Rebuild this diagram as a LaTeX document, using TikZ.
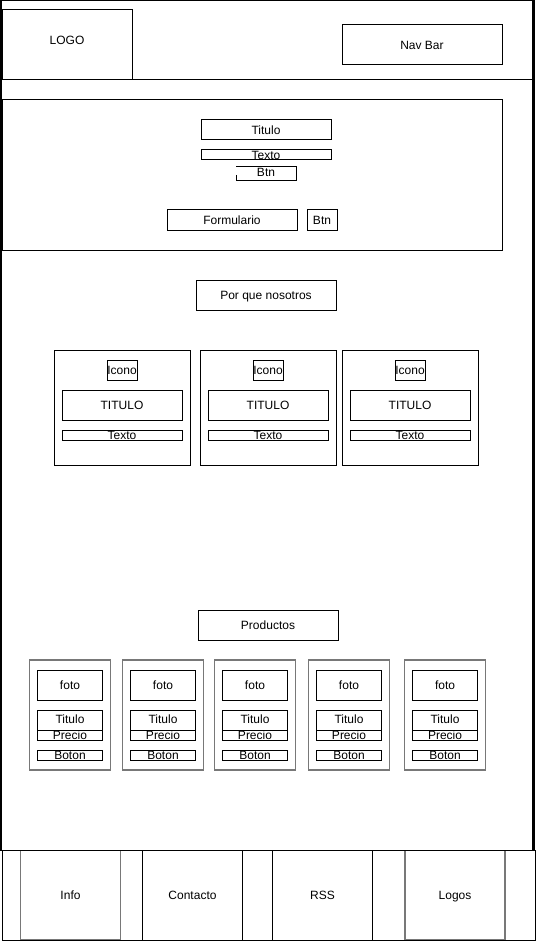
\documentclass[tikz,border=0pt]{standalone}
\usepackage{fontspec}
\setmainfont{Liberation Sans}
\definecolor{wfgray}{RGB}{120,120,120}
\tikzset{
  wf/.style={draw=black, line width=1pt, inner sep=0pt, outer sep=0pt, fill=none},
  wfg/.style={draw=wfgray, line width=1.6pt, inner sep=0pt, outer sep=0pt},
  lbl/.style={inner sep=0pt, outer sep=0pt, text height=8.6pt, text depth=2.5pt,
    yshift=-1.6pt, font=\fontsize{12}{14}\selectfont, text=black}
}
% box from (x1,y1) to (x2,y2) with a name
\newcommand\wbox[6][wf]{\node[#1, minimum width={(#5)-(#3)}, minimum height={(#6)-(#4)}] (#2) at ({((#3)+(#5))/2},{((#4)+(#6))/2}) {};}
\begin{document}
\begin{tikzpicture}[x=1pt,y=-1pt]
\useasboundingbox (0,0) rectangle (535,941);
\fill[white] (0,0) rectangle (535,941);

% page frame
\draw[line width=1pt] (0,0.5) -- (535,0.5);
\draw[line width=1.2pt] (1,0) -- (1,851);
\fill[black] (532,0) rectangle (535,851);
\draw[line width=1pt] (0,80) -- (533,80);

% header
\wbox{logo}{2.5}{10}{132}{80}
\node[lbl] (logot) at (67,40) {LOGO};
\wbox{nav}{342}{25}{502}{65}
\node[lbl] (navt) at (nav) {Nav Bar};

% hero
\wbox{hero}{2.5}{100}{502}{250}
\wbox{titulo}{201}{120}{331}{140}
\node[lbl] (titulot) at (titulo) {Titulo};
\node[lbl] (textot) at (266,154.6) {Texto};
\wbox{texto}{201}{150}{331}{160}
\node[lbl] (btnt) at (266,172) {Btn};
\coordinate (btnA) at (236,175);
\draw[line width=1pt] (btnA) -- (236,180.5) -- (296.5,180.5) -- (296.5,167) -- (236,167);
\wbox{form}{167}{210}{297}{230}
\node[lbl] (formt) at (form) {Formulario};
\wbox{btn2}{307}{210}{337}{230}
\node[lbl] (btn2t) at (btn2) {Btn};

% section: why us
\wbox{porque}{196}{280}{336}{310}
\node[lbl] (porquet) at (porque) {Por que nosotros};

\foreach \cx [count=\i] in {54,200,342}{
  \wbox{card\i}{\cx}{350}{\cx+136}{465}
  \node[lbl] (iconot\i) at (\cx+68,370) {Icono};
  \wbox{icono\i}{\cx+53}{360}{\cx+83}{380}
  \wbox{tit\i}{\cx+8}{390}{\cx+128}{420}
  \node[lbl] (titt\i) at (tit\i) {TITULO};
  \node[lbl] (txtt\i) at (\cx+68,434.6) {Texto};
  \wbox{txt\i}{\cx+8}{430}{\cx+128}{440}
}

% section: products
\wbox{prod}{198}{610}{338}{640}
\node[lbl] (prodt) at (prod) {Productos};

\foreach \px [count=\i] in {29.5,122.5,214.5,308.5,404.5}{
  \wbox[wfg]{pcard\i}{\px}{660}{\px+81}{770}
  \wbox{foto\i}{\px+8}{670}{\px+73}{700}
  \node[lbl] (fotot\i) at (foto\i) {foto};
  \wbox{ptit\i}{\px+8}{710}{\px+73}{730}
  \node[lbl] (ptitt\i) at (\px+40.5,719) {Titulo};
  \node[lbl] (preciot\i) at (\px+40.5,734.6) {Precio};
  \wbox{precio\i}{\px+8}{730}{\px+73}{740}
  \node[lbl] (botont\i) at (\px+40.5,754.6) {Boton};
  \wbox{boton\i}{\px+8}{750}{\px+73}{760.5}
}

% footer
\wbox{footer}{2.5}{850.5}{535}{940}
\wbox[wfg]{finfo}{20.5}{850.5}{120.5}{940}
\node[lbl] (finfot) at (finfo) {Info};
\wbox{fcont}{142.5}{850.5}{242.5}{940}
\node[lbl] (fcontt) at (fcont) {Contacto};
\wbox{frss}{272.5}{850.5}{372.5}{940}
\node[lbl] (frsst) at (frss) {RSS};
\wbox[wfg]{flogos}{405}{850.5}{505}{940}
\node[lbl] (flogost) at (flogos) {Logos};
\draw[line width=1pt] (footer.north west) rectangle (footer.south east);
\end{tikzpicture}
\end{document}
